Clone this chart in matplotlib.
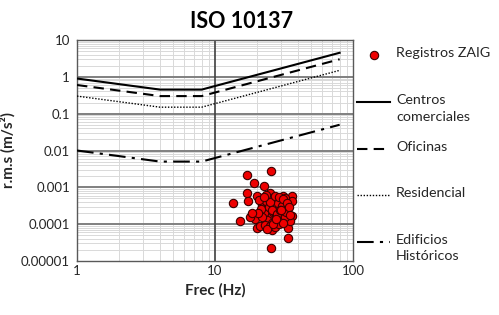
"""ISO 10137 vibration limits with ZAIG measurement records."""
import matplotlib
matplotlib.use("Agg")
import matplotlib.pyplot as plt
from matplotlib.lines import Line2D
from matplotlib.ticker import LogLocator, FixedLocator, NullFormatter

plt.rcParams["font.family"] = ["Lato", "DejaVu Sans"]

# ISO 10137 curves (breakpoints at 1, 4, 8, 80 Hz)
curve_freq = [1, 4, 8, 80]
centros_comerciales = [0.9, 0.45, 0.45, 4.5]
oficinas = [0.6, 0.3, 0.3, 3.0]
residencial = [0.3, 0.15, 0.15, 1.5]
edificios_historicos = [0.01, 0.005, 0.005, 0.05]

# ZAIG records
zaig_freq = [
    25.3, 17.0, 19.1, 22.6, 13.6, 15.2, 34.0, 25.3, 17.0, 17.4,
    20.0, 19.5, 17.9, 20.0, 21.1, 26.1, 35.9, 35.9, 35.9, 34.0,
    34.8, 31.2, 25.0, 23.0, 22.0, 24.0, 26.0, 28.0, 30.0, 32.0,
    33.0, 27.0, 29.0, 24.5, 26.5, 28.5, 30.5, 22.5, 23.5, 25.5,
    27.5, 29.5, 31.5, 33.5, 21.5, 24.0, 26.0, 28.0, 30.0, 32.0,
    23.0, 25.0, 27.0, 29.0, 31.0, 22.0, 24.5, 26.5, 28.5, 30.5,
    25.0, 27.0, 29.0, 31.0, 33.0, 20.5, 23.5, 26.0, 28.0, 24.0,
    26.5, 29.5, 32.5, 34.5, 21.0, 22.5, 27.5, 30.0, 35.0, 18.5,
]
zaig_rms = [
    2.8e-3, 2.1e-3, 1.3e-3, 1.1e-3, 3.7e-4, 1.2e-4, 4.3e-5, 2.3e-5, 6.9e-4, 4.3e-4,
    5.8e-4, 1.4e-4, 1.6e-4, 8.1e-5, 9.0e-5, 7.1e-5, 5.8e-4, 4.3e-4, 1.7e-4, 8.1e-5,
    1.2e-4, 5.8e-4, 7.2e-4, 4.8e-4, 3.5e-4, 2.8e-4, 5.2e-4, 4.5e-4, 3.9e-4, 5.0e-4,
    3.2e-4, 2.4e-4, 2.9e-4, 1.9e-4, 2.1e-4, 2.6e-4, 2.2e-4, 2.0e-4, 4.2e-4, 3.6e-4,
    1.7e-4, 1.5e-4, 2.7e-4, 2.3e-4, 2.6e-4, 1.3e-4, 1.1e-4, 1.2e-4, 1.4e-4, 1.6e-4,
    9.5e-5, 9.0e-5, 8.5e-5, 1.0e-4, 1.1e-4, 1.6e-4, 3.0e-4, 3.3e-4, 3.7e-4, 3.1e-4,
    4.0e-4, 6.0e-4, 5.5e-4, 4.7e-4, 3.8e-4, 2.0e-4, 6.3e-4, 2.5e-4, 1.9e-4, 7.5e-5,
    1.0e-4, 2.5e-4, 2.2e-4, 2.9e-4, 4.6e-4, 5.5e-4, 1.35e-4, 2.4e-4, 1.8e-4, 2.0e-4,
]

W, H = 499, 315
fig, ax = plt.subplots(figsize=(W / 100, H / 100), dpi=100)
fig.subplots_adjust(left=77 / W, right=353 / W, bottom=1 - 261 / H, top=1 - 40 / H)

pts_style = dict(color="#ee0000", edgecolor="#3a0000", linewidth=0.8)
styles = {
    "Centros\ncomerciales": dict(lw=1.5),
    "Oficinas": dict(lw=1.5, dashes=(5, 3)),
    "Residencial": dict(lw=1.0, dashes=(1, 1.2)),
    "Edificios\nHistóricos": dict(lw=1.5, dashes=(8, 3, 1.5, 3)),
}
series = [centros_comerciales, oficinas, residencial, edificios_historicos]

ax.scatter(zaig_freq, zaig_rms, s=36, zorder=4, **pts_style)
for vals, (lbl, st) in zip(series, styles.items()):
    ax.plot(curve_freq, vals, color="black", zorder=3, **st)

ax.set_xscale("log")
ax.set_yscale("log")
ax.set_xlim(1, 100)
ax.set_ylim(1e-5, 10)

xt = [1, 10, 100]
yt = [1e-5, 1e-4, 1e-3, 1e-2, 1e-1, 1, 10]
ax.xaxis.set_major_locator(FixedLocator(xt))
ax.set_xticklabels(["1", "10", "100"])
ax.xaxis.set_minor_locator(LogLocator(base=10, subs=range(2, 10)))
ax.xaxis.set_minor_formatter(NullFormatter())
ax.yaxis.set_major_locator(FixedLocator(yt))
ax.set_yticklabels(["0.00001", "0.0001", "0.001", "0.01", "0.1", "1", "10"])
ax.yaxis.set_minor_locator(LogLocator(base=10, subs=range(2, 10), numticks=20))
ax.yaxis.set_minor_formatter(NullFormatter())
ax.tick_params(which="both", length=0, labelsize=9.5, colors="#262626")
ax.tick_params(axis="y", pad=5)
ax.tick_params(axis="x", pad=3)

# light minor grid below, heavier decade lines on top of it
ax.grid(which="minor", color="#d9d9d9", lw=0.7)
ax.set_axisbelow(True)
for v in yt[1:-1]:
    ax.axhline(v, color="#808080", lw=1.4, zorder=1)
ax.axvline(xt[1], color="#404040", lw=1.2, zorder=1)
for s in ax.spines.values():
    s.set_color("#595959")
    s.set_linewidth(1.0)

fig.text(242 / W, 1 - 22 / H, "ISO 10137", fontsize=15.5, fontweight="bold",
         ha="center", va="center")
ax.set_xlabel("Frec (Hz)", fontsize=11, fontweight="bold", color="#262626",
              labelpad=4)
ax.set_ylabel("r.m.s (m/s²)", fontsize=11, fontweight="bold", color="#262626",
              labelpad=4)

# Excel-style legend to the right of the plot
hx0, hx1, tx = 357 / W, 390 / W, 396 / W
leg_rows = [55, 102, 149, 195, 242]
leg_kw = dict(fontsize=10.3, color="#262626", va="top", ha="left",
              linespacing=1.45)
fig.add_artist(Line2D([(hx0 + hx1) / 2], [1 - leg_rows[0] / H], marker="o",
                      markersize=6, markerfacecolor="#ee0000",
                      markeredgecolor="#3a0000", markeredgewidth=0.8, ls="none"))
fig.text(tx, 1 - (leg_rows[0] - 8) / H, "Registros ZAIG", **leg_kw)
for yrow, (lbl, st) in zip(leg_rows[1:], styles.items()):
    fig.add_artist(Line2D([hx0, hx1], [1 - yrow / H] * 2, color="black", **st))
    fig.text(tx, 1 - (yrow - 8) / H, lbl, **leg_kw)

fig.savefig("out.png", dpi=100)
